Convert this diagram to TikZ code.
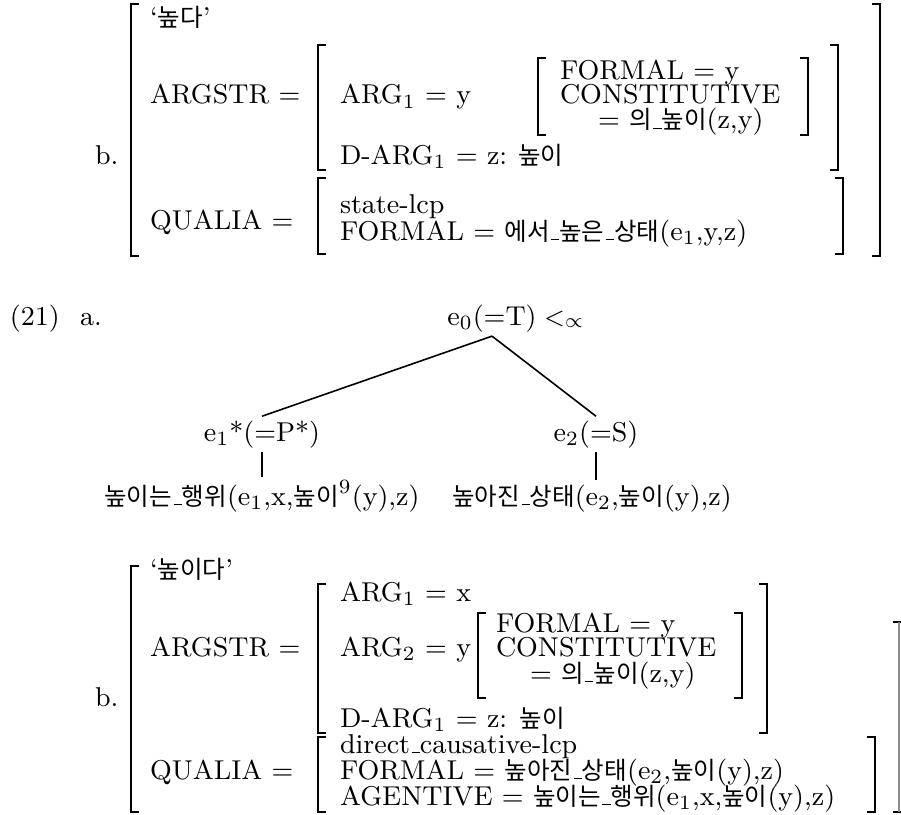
\documentclass[tikz,border=0pt]{standalone}
\usepackage{fontspec}
\newfontfamily\kr[Scale=0.9]{Noto Sans CJK KR}
\newcommand{\K}[1]{{\kr #1}}
\newcommand{\us}{\leavevmode\kern.06em\vbox{\hrule width.3em}}
\newcommand{\avmL}[3]{\draw[brk] (#1+8,#2) -- (#1,#2) -- (#1,#3) -- (#1+8,#3);}
\newcommand{\avmR}[3]{\draw[brk] (#1-8,#2) -- (#1,#2) -- (#1,#3) -- (#1-8,#3);}
\begin{document}
\begin{tikzpicture}[
  x=0.345pt, y=-0.345pt,
  txt/.style={anchor=base west, inner sep=0pt, outer sep=0pt, font=\fontsize{9.4}{11}\selectfont},
  ctr/.style={anchor=base, inner sep=0pt, outer sep=1.5pt, font=\fontsize{9.4}{11}\selectfont},
  brk/.style={line width=0.7pt},
  branch/.style={line width=0.55pt},
]
\useasboundingbox (0,0) rectangle (901,814);

% ---------------- top block (b.) ----------------
\node[txt] (tb) at (95,164) {b.};
\avmL{131}{4}{256}
\avmR{880}{4}{256}
\node[txt] (tlex) at (150,27) {`\K{높다}'};
\node[txt] (targ) at (150,104) {ARGSTR =};
\avmL{318}{45}{170}
\avmR{838}{45}{170}
\node[txt] (targ1) at (340,104) {ARG$_1$ = y};
\avmL{538}{58}{135}
\avmR{808}{58}{135}
\node[txt] (tf) at (560,80) {FORMAL = y};
\node[txt] (tc) at (560,104) {CONSTITUTIVE};
\node[txt] (tcv) at (598,129) {= \K{의}\us\K{높이}(z,y)};
\node[txt] (tdarg) at (340,164) {D-ARG$_1$ = z:};
\node[txt] (tdv) at (518,164) {\K{높이}};
\node[txt] (tq) at (150,229) {QUALIA =};
\avmL{318}{178}{254}
\avmR{843}{178}{254}
\node[txt] (tql) at (340,214) {state-lcp};
\node[txt] (tqf) at (340,240) {FORMAL = \K{에서}\us\K{높은}\us\K{상태}(e$_1$,y,z)};

% ---------------- tree (21a) ----------------
\node[txt] (ex) at (10,325) {(21)\hspace{0.75em}a.};
\node[ctr] (root) at (492,325) {e$_0$(=T)};
\node[txt] (prec) at (544,325) {$<_\propto$};
\node[ctr] (e1) at (262,441) {e$_1$*(=P*)};
\node[ctr] (e2) at (596,441) {e$_2$(=S)};
\node[ctr] (l1) at (262,505) {\K{높이는}\us\K{행위}(e$_1$,x,\K{높이}$^9$(y),z)};
\node[ctr] (l2) at (592,505) {\K{높아진}\us\K{상태}(e$_2$,\K{높이}(y),z)};
\draw[branch] (root.south) -- (e1.north);
\draw[branch] (root.south) -- (e2.north);
\draw[branch] (e1.south) -- (e1.south |- l1.north);
\draw[branch] (e2.south) -- (e2.south |- l2.north);

% ---------------- bottom block (b.) ----------------
\node[txt] (bb) at (95,706) {b.};
\avmL{131}{566}{812}
\node[txt] (blex) at (150,578) {`\K{높이다}'};
\node[txt] (barg) at (150,656) {ARGSTR =};
\avmL{318}{584}{733}
\avmR{767}{584}{733}
\node[txt] (barg1) at (340,601) {ARG$_1$ = x};
\node[txt] (barg2) at (340,656) {ARG$_2$ = y};
\avmL{478}{613}{698}
\avmR{742}{613}{698}
\node[txt] (bf) at (496,632) {FORMAL = y};
\node[txt] (bc) at (496,656) {CONSTITUTIVE};
\node[txt] (bcv) at (530,682) {= \K{의}\us\K{높이}(z,y)};
\node[txt] (bdarg) at (340,727) {D-ARG$_1$ = z: \K{높이}};
\node[txt] (bq) at (150,779) {QUALIA =};
\avmL{318}{737}{812}
\avmR{875}{737}{812}
\node[txt] (bql) at (340,753) {direct\us causative-lcp};
\node[txt] (bqf) at (340,779) {FORMAL = \K{높아진}\us\K{상태}(e$_2$,\K{높이}(y),z)};
\node[txt] (bqa) at (340,805) {AGENTIVE = \K{높이는}\us\K{행위}(e$_1$,x,\K{높이}(y),z)};
% cut-off outer right bracket at the page edge
\draw[brk] (893,622) -- (902,622);
\draw[brk] (893,812) -- (902,812);
\draw[line width=0.5pt, black!45] (899,622) -- (899,812);
\end{tikzpicture}
\end{document}
